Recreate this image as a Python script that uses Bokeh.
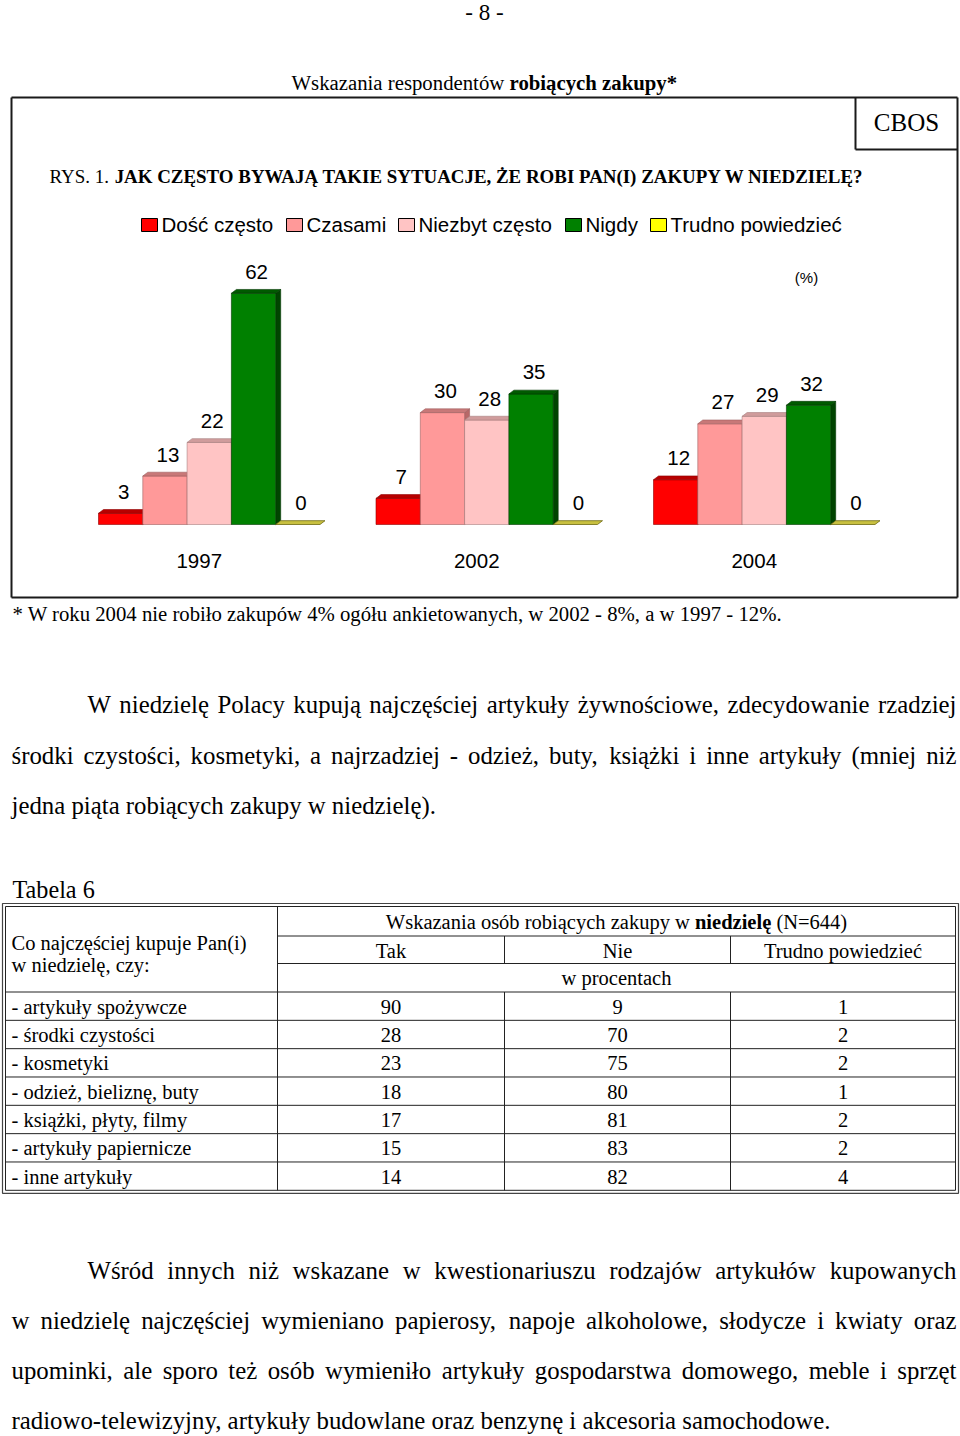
import unicodedata
from bokeh.plotting import figure
from bokeh.models import Range1d, ColumnDataSource
from bokeh.core.properties import value
from bokeh.embed import file_html
from bokeh.resources import INLINE

# ---------------- data ----------------
years = ["1997", "2002", "2004"]
series_names = ["Dość często", "Czasami", "Niezbyt często", "Nigdy", "Trudno powiedzieć"]
dosc_czesto = [3, 7, 12]
czasami = [13, 30, 27]
niezbyt_czesto = [22, 28, 29]
nigdy = [62, 35, 32]
trudno_powiedziec = [0, 0, 0]

table_items = ["- artykuły spożywcze", "- środki czystości", "- kosmetyki",
               "- odzież, bieliznę, buty", "- książki, płyty, filmy",
               "- artykuły papiernicze", "- inne artykuły"]
table_tak = [90, 28, 23, 18, 17, 15, 14]
table_nie = [9, 70, 75, 80, 81, 83, 82]
table_trudno = [1, 2, 2, 1, 2, 2, 4]
table_col_heads = ["Tak", "Nie", "Trudno powiedzieć"]

page_no = "- 8 -"
title_parts = [("Wskazania respondentów ", False), ("robiących zakupy*", True)]
rys_parts = [("RYS. 1. ", False),
             ("JAK CZĘSTO BYWAJĄ TAKIE SYTUACJE, ŻE ROBI PAN(I) ZAKUPY W NIEDZIELĘ?", True)]
footnote = "* W roku 2004 nie robiło zakupów 4% ogółu ankietowanych, w 2002 - 8%, a w 1997 - 12%."
para1 = ["W niedzielę Polacy kupują najczęściej artykuły żywnościowe, zdecydowanie rzadziej",
         "środki czystości, kosmetyki, a najrzadziej - odzież, buty, książki i inne artykuły (mniej niż",
         "jedna piąta robiących zakupy w niedzielę)."]
para2 = ["Wśród innych niż wskazane w kwestionariuszu rodzajów artykułów kupowanych",
         "w niedzielę najczęściej wymieniano papierosy, napoje alkoholowe, słodycze i kwiaty oraz",
         "upominki, ale sporo też osób wymieniło artykuły gospodarstwa domowego, meble i sprzęt",
         "radiowo-telewizyjny, artykuły budowlane oraz benzynę i akcesoria samochodowe."]
table_label = "Tabela 6"
table_head_parts = [("Wskazania osób robiących zakupy w ", False), ("niedzielę", True), (" (N=644)", False)]
table_left_head = ["Co najczęściej kupuje Pan(i)", "w niedzielę, czy:"]
table_unit = "w procentach"

series_values = [dosc_czesto, czasami, niezbyt_czesto, nigdy, trudno_powiedziec]

# ---------------- styles ----------------
W, H = 960, 1436
SERIF, SANS = "Liberation Serif", "Liberation Sans"
front_col = ["#FF0000", "#FF9999", "#FFC4C4", "#008000", "#FFFF00"]
cap_col = ["#B80000", "#C87878", "#D09C9C", "#005A00", "#C8C040"]
side_col = ["#A00000", "#B86868", "#C08C8C", "#004400", "#A8A030"]
edge_col = ["#900000", "#A06060", "#A88080", "#003800", "#6E6A10"]
BASE_SHIFT = 0.34  # em: lift so that the given y is the baseline of the drawn text

# Times-like advance widths (em) for layout of serif text
_low = "abcdefghijklmnopqrstuvwxyz"
_up = "ABCDEFGHIJKLMNOPQRSTUVWXYZ"
REG = dict(zip(_low, [.444, .5, .444, .5, .444, .333, .5, .5, .278, .278, .5, .278, .778, .5, .5, .5, .5,
                      .333, .389, .278, .5, .5, .722, .5, .5, .444]))
REG.update(zip(_up, [.722, .667, .667, .722, .611, .556, .722, .722, .333, .389, .722, .611, .889, .722,
                     .722, .556, .722, .667, .556, .611, .722, .722, .944, .722, .722, .611]))
REG.update({c: .5 for c in "0123456789"})
REG.update({" ": .25, ",": .25, ".": .25, "-": .333, "(": .333, ")": .333, "%": .833, "*": .5,
            "?": .444, ":": .278, "=": .564})
BOLD = dict(zip(_low, [.5, .556, .444, .556, .444, .333, .5, .556, .278, .333, .556, .278, .833, .556,
                       .5, .556, .556, .444, .389, .333, .556, .5, .722, .5, .5, .444]))
BOLD.update(zip(_up, [.722, .667, .722, .722, .667, .611, .778, .778, .389, .5, .778, .667, .944, .722,
                      .778, .611, .778, .722, .556, .667, .722, .722, 1.0, .722, .722, .667]))
BOLD.update({c: .5 for c in "0123456789"})
BOLD.update({" ": .25, ",": .25, ".": .25, "-": .333, "(": .333, ")": .333, "%": 1.0, "*": .5,
             "?": .5, ":": .333, "=": .57})


def em(s, bold=False):
    t = BOLD if bold else REG
    w = 0.0
    for ch in s:
        b = {"ł": "l", "Ł": "L"}.get(ch, unicodedata.normalize("NFD", ch)[0])
        w += t.get(b, .5)
    return w


TEXTS = {"serif": [], "serif_bold": [], "sans": []}


def add(kind, x, y, s, size, align="left"):
    TEXTS[kind].append((x, y - BASE_SHIFT * size, s, "%.2fpx" % size, align))


def mixed(parts, x0, y, size):
    x = x0
    for s, b in parts:
        lead = len(s) - len(s.lstrip(" "))
        x += em(" " * lead, b) * size
        core = s.strip(" ")
        add("serif_bold" if b else "serif", x, y, core, size)
        x += em(s.lstrip(" "), b) * size


def fit(parts, width):
    return width / sum(em(s, b) for s, b in parts)


def justified(line, x0, x1, y, size):
    words = line.split(" ")
    widths = [em(w) * size for w in words]
    gap = (x1 - x0 - sum(widths)) / (len(words) - 1)
    x = x0
    for i, (w, wd) in enumerate(zip(words, widths)):
        if i == len(words) - 1:
            add("serif", x1, y, w, size, "right")
        else:
            add("serif", x, y, w, size)
        x += wd + gap


p = figure(width=W, height=H, x_range=Range1d(0, W), y_range=Range1d(H, 0),
           output_backend="svg", toolbar_location=None, min_border=0,
           x_axis_type=None, y_axis_type=None, outline_line_color=None,
           background_fill_color="white", border_fill_color="white")
p.grid.visible = False

# ---------------- header ----------------
add("serif", 484, 19.5, page_no, 23, "center")
s = fit(title_parts, 386)
mixed(title_parts, 291, 89, s)

# chart frame + CBOS box
BOX_L, BOX_R, BOX_T, BOX_B = 11, 957, 97, 597
p.segment(x0=[BOX_L, BOX_L, BOX_L, BOX_R, 855, 855], y0=[BOX_T, BOX_B, BOX_T, BOX_T, BOX_T, 149],
          x1=[BOX_R, BOX_R, BOX_L, BOX_R, 855, BOX_R], y1=[BOX_T, BOX_B, BOX_B, BOX_B, 149, 149],
          line_color="#1a1a1a", line_width=2)
add("serif", 906, 130, "CBOS", 25, "center")
s = fit(rys_parts, 820)
mixed(rys_parts, 49, 182, s)

# legend
leg_x = [141, 286, 398, 565, 650]
p.quad(left=leg_x, right=[x + 16 for x in leg_x], top=[218] * 5, bottom=[231] * 5,
       fill_color=front_col, line_color="#000000", line_width=1)
for x, name in zip(leg_x, series_names):
    add("sans", x + 20, 231, name, 20.5)
add("sans", 806, 282, "(%)", 15, "center")

# ---------------- bars (own scales) ----------------
BAR_PX, X0_PX, GROUP_PX = 44.3, 98.0, 277.5
BASE_PX, PX_PER_PCT = 524.0, 3.73
GS = GROUP_PX / BAR_PX
p.extra_x_ranges = {"bar": Range1d(start=-X0_PX / BAR_PX, end=(W - X0_PX) / BAR_PX)}
p.extra_y_ranges = {"pct": Range1d(start=(BASE_PX - H) / PX_PER_PCT, end=BASE_PX / PX_PER_PCT)}
dx, dy = 5.0 / BAR_PX, 3.8 / PX_PER_PCT
kw = dict(x_range_name="bar", y_range_name="pct")

lab_x, lab_y, lab_t = [], [], []
for j, vals in enumerate(series_values):
    cx = [g * GS + j + 0.5 for g in range(len(years))]
    pos = [(c - 0.5, c + 0.5, v) for c, v in zip(cx, vals) if v > 0]
    zer = [(c - 0.5, c + 0.5) for c, v in zip(cx, vals) if v <= 0]
    if pos:
        p.patches(xs=[[r, r, r + dx, r + dx] for l, r, v in pos],
                  ys=[[0, v, v + dy, dy] for l, r, v in pos],
                  fill_color=side_col[j], line_color=edge_col[j], line_width=0.6, **kw)
        p.quad(left=[l for l, r, v in pos], right=[r for l, r, v in pos],
               bottom=[0] * len(pos), top=[v for l, r, v in pos],
               fill_color=front_col[j], line_color=edge_col[j], line_width=0.6, **kw)
        p.patches(xs=[[l, l + dx, r + dx, r] for l, r, v in pos],
                  ys=[[v, v + dy, v + dy, v] for l, r, v in pos],
                  fill_color=cap_col[j], line_color=edge_col[j], line_width=0.6, **kw)
    if zer:
        p.patches(xs=[[l, r, r + dx, l + dx] for l, r in zer],
                  ys=[[0, 0, dy, dy] for l, r in zer],
                  fill_color=cap_col[j], line_color=edge_col[j], line_width=0.8, **kw)
    lab_x += cx
    lab_y += vals
    lab_t += [str(v) for v in vals]

p.text(x=lab_x, y=lab_y, text=lab_t, x_offset=3, y_offset=-14.5 - BASE_SHIFT * 20.5,
       text_align="center", text_baseline="alphabetic", text_font=value(SANS),
       text_font_size="20.5px", text_color="#000000", **kw)
p.text(x=[g * GS + 2.5 for g in range(len(years))],
       y=[567.5 - BASE_SHIFT * 20.5] * len(years), text=years,
       x_offset=-10, text_align="center", text_baseline="alphabetic", text_font=value(SANS),
       text_font_size="20.5px", text_color="#000000", x_range_name="bar")

# ---------------- footnote & paragraph 1 ----------------
s = fit([(footnote, False)], 770)
add("serif", 12, 621, footnote, s)

L, R = 11, 956
PS = fit([(para2[-1], False)], 832 - L)
base1 = [712, 763, 813]
justified(para1[0], 87, R, base1[0], PS)
justified(para1[1], L, R, base1[1], PS)
add("serif", L, base1[2], para1[2], PS)

# ---------------- table ----------------
TS = 20.5
add("serif", 12, 897, table_label, fit([(table_label, False)], 84))
T_L, T_R, T_T = 5, 955, 906
C1, C2, C3 = 277, 504, 730
HR1, HR2, HR3 = 935.5, 963, 991.5
RH = 28.33
n = len(table_items)
T_B = HR3 + RH * n
# double outer border
p.quad(left=[T_L - 3, T_L], right=[T_R + 3, T_R], top=[T_T - 3, T_T], bottom=[T_B + 3, T_B],
       fill_color=None, line_color=["#444444", "#222222"], line_width=[1.2, 1.0])
hx0 = [C1, C1] + [T_L] * n
hx1 = [T_R] * (n + 2)
hy = [HR1, HR2] + [HR3 + RH * r for r in range(n)]
p.segment(x0=hx0, y0=hy, x1=hx1, y1=hy, line_color="#222222", line_width=1)
vx = [C1, C2, C3, C2, C3]
vy0 = [T_T, HR1, HR1, HR3, HR3]
vy1 = [T_B, HR2, HR2, T_B, T_B]
p.segment(x0=vx, y0=vy0, x1=vx, y1=vy1, line_color="#222222", line_width=1)

hw = sum(em(s_, b) for s_, b in table_head_parts) * TS
mixed(table_head_parts, (C1 + T_R) / 2 - hw / 2, 928, TS)
add("serif", 11, 949, table_left_head[0], TS)
add("serif", 11, 971, table_left_head[1], TS)
col_c = [(C1 + C2) / 2, (C2 + C3) / 2, (C3 + T_R) / 2]
for c, h in zip(col_c, table_col_heads):
    add("serif", c, 957, h, TS, "center")
add("serif", (C1 + T_R) / 2, 984, table_unit, TS, "center")
for r in range(n):
    yb = HR3 + RH * r + 21.8
    add("serif", 11, yb, table_items[r], TS)
    for c, v in zip(col_c, (table_tak[r], table_nie[r], table_trudno[r])):
        add("serif", c, yb, str(v), TS, "center")

# ---------------- paragraph 2 ----------------
base2 = [1278, 1328, 1378, 1428]
justified(para2[0], 87, R, base2[0], PS)
justified(para2[1], L, R, base2[1], PS)
justified(para2[2], L, R, base2[2], PS)
add("serif", L, base2[3], para2[3], PS)

# ---------------- render texts ----------------
for kind, font, style in [("serif", SERIF, "normal"), ("serif_bold", SERIF, "bold"), ("sans", SANS, "normal")]:
    rows = TEXTS[kind]
    if not rows:
        continue
    src = ColumnDataSource(dict(x=[r[0] for r in rows], y=[r[1] for r in rows],
                                text=[r[2] for r in rows], size=[r[3] for r in rows],
                                align=[r[4] for r in rows]))
    p.text(x="x", y="y", text="text", source=src, text_font=value(font),
           text_font_style=value(style), text_font_size="size", text_align="align",
           text_baseline="alphabetic", text_color="#000000")

open("out.html", "w").write(file_html(p, INLINE))
